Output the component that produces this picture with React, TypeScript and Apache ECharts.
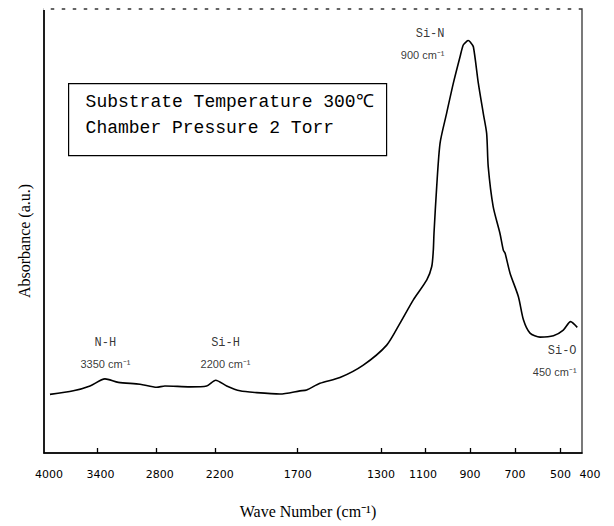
import React, { useEffect, useRef } from "react";
import * as echarts from "echarts";

// ---- data ----
const tickWavenumbers = [4000, 3400, 2800, 2200, 1700, 1300, 1100, 900, 700, 500, 400];
const tickLabels = ["4000", "3400", "2800", "2200", "1700", "1300", "1100", "900", "700", "500", "400"];

const wavenumbers = [
  3933, 3671, 3484, 3324, 3189, 2969, 2800, 2716, 2461, 2292, 2200, 2133, 2052, 1950, 1808,
  1689, 1657, 1593, 1497, 1385, 1274, 1214, 1153, 1092, 1070, 1063, 1060, 1048, 1033, 1004,
  974, 944, 930, 915, 908, 898, 885, 863, 841, 826, 819, 797, 767, 752, 744, 722, 685, 663,
  634, 590, 531, 487, 453, 422,
];
const absorbance = [
  0.132, 0.14, 0.151, 0.167, 0.159, 0.155, 0.148, 0.151, 0.149, 0.151, 0.164, 0.151, 0.14,
  0.136, 0.133, 0.14, 0.142, 0.157, 0.17, 0.198, 0.243, 0.292, 0.345, 0.39, 0.42, 0.457,
  0.495, 0.6, 0.698, 0.765, 0.833, 0.893, 0.919, 0.927, 0.929, 0.925, 0.915, 0.833, 0.765,
  0.72, 0.645, 0.555, 0.495, 0.457, 0.45, 0.405, 0.352, 0.3, 0.27, 0.261, 0.264, 0.277,
  0.296, 0.283,
];

const peakNames = ["N-H", "Si-H", "Si-N", "Si-O"];
const peakValues = ["3350", "2200", "900", "450"];
const peakLabelWavenumbers = [3315, 2137, 1011, 423];
const peakLabelAbsorbance = [0.222, 0.222, 0.919, 0.205];
const peakLabelAlign = ["center", "center", "right", "right"];

const boxLines = ["Substrate Temperature 300℃", "Chamber Pressure 2 Torr"];

// ---- non-linear (piecewise) wavenumber scale, as printed on the spectrometer chart ----
const AXIS_STOPS = [0, 53.5, 112.7, 171.7, 253.7, 337, 381, 426, 471, 516.5, 538];
const LABEL_SHIFT = [5, 3, 3, 4, 0, 0, -2, 0, 0, 0, 8];

function toAxis(wn: number): number {
  const n = tickWavenumbers.length;
  for (let i = 0; i < n - 1; i++) {
    const a = tickWavenumbers[i];
    const b = tickWavenumbers[i + 1];
    if (wn <= a && wn >= b) {
      return AXIS_STOPS[i] + ((a - wn) / (a - b)) * (AXIS_STOPS[i + 1] - AXIS_STOPS[i]);
    }
  }
  return wn > tickWavenumbers[0] ? AXIS_STOPS[0] : AXIS_STOPS[n - 1];
}

export default function App() {
  const ref = useRef<HTMLDivElement>(null);

  useEffect(() => {
    if (!ref.current) return;
    const chart = echarts.init(ref.current, null, { renderer: "svg" });

    const labelRich: Record<string, any> = {};
    LABEL_SHIFT.forEach((s, i) => {
      labelRich["s" + i] = {
        fontFamily: "DejaVu Sans",
        fontSize: 11,
        color: "#000",
        padding: s >= 0 ? [0, 0, 0, 2 * s] : [0, -2 * s, 0, 0],
      };
    });

    const xMax = AXIS_STOPS[AXIS_STOPS.length - 1];

    const option: any = {
      animation: false,
      backgroundColor: "#fff",
      grid: {
        left: 44,
        right: 32,
        top: 9,
        bottom: 73,
        show: true,
        borderColor: "#333",
        borderWidth: 1.3,
        backgroundColor: "transparent",
      },
      xAxis: [
        {
          type: "value",
          min: 0,
          max: xMax,
          position: "bottom",
          axisLine: { show: true, onZero: false, lineStyle: { color: "#000", width: 1.5 } },
          axisTick: {
            show: true,
            inside: true,
            length: 5,
            customValues: AXIS_STOPS.slice(1, -1),
            lineStyle: { color: "#000", width: 1.3 },
          },
          axisLabel: {
            show: true,
            customValues: AXIS_STOPS,
            margin: 16,
            formatter: (v: number) => {
              const i = AXIS_STOPS.findIndex((p) => Math.abs(p - v) < 0.01);
              return i >= 0 ? `{s${i}|${tickLabels[i]}}` : "";
            },
            rich: labelRich,
          },
          splitLine: { show: false },
          name: "Wave Number (cm⁻¹)",
          nameLocation: "middle",
          nameGap: 50,
          nameTextStyle: { fontFamily: "Liberation Serif", fontSize: 16, color: "#000", padding: [0, 10, 0, 0] },
        },
        {
          type: "value",
          min: 0,
          max: xMax,
          position: "top",
          axisLine: { show: true, onZero: false, lineStyle: { color: "#fff", width: 2, type: [6, 5] } },
          axisTick: { show: false },
          axisLabel: { show: false },
          splitLine: { show: false },
        },
      ],
      yAxis: [
        {
          type: "value",
          min: 0,
          max: 1,
          position: "left",
          axisLine: { show: true, onZero: false, lineStyle: { color: "#000", width: 1.5 } },
          axisTick: { show: false },
          axisLabel: { show: false },
          splitLine: { show: false },
          name: "Absorbance (a.u.)",
          nameLocation: "middle",
          nameGap: 12,
          nameTextStyle: { fontFamily: "Liberation Serif", fontSize: 16, color: "#000", padding: [0, 20, 0, 0] },
        },
      ],
      series: [
        {
          type: "line",
          xAxisIndex: 0,
          yAxisIndex: 0,
          data: wavenumbers.map((w, i) => [toAxis(w), absorbance[i]]),
          showSymbol: false,
          smooth: 0.25,
          silent: true,
          lineStyle: { color: "#000", width: 1.6 },
        },
        {
          type: "scatter",
          xAxisIndex: 0,
          yAxisIndex: 0,
          silent: true,
          symbolSize: 1,
          itemStyle: { color: "rgba(0,0,0,0)" },
          data: peakNames.map((name, i) => ({
            value: [toAxis(peakLabelWavenumbers[i]), peakLabelAbsorbance[i]],
            label: {
              show: true,
              position: [0, 0],
              align: peakLabelAlign[i],
              verticalAlign: "middle",
              formatter: `{a|${name}}\n{b|${peakValues[i]} cm⁻¹}`,
              rich: {
                a: { fontFamily: "Liberation Mono", fontSize: 12, lineHeight: 21, color: "#000", align: peakLabelAlign[i] },
                b: { fontFamily: "Liberation Sans", fontSize: 11, lineHeight: 21, color: "#000", align: peakLabelAlign[i] },
              },
            },
          })),
        },
      ],
      graphic: [
        {
          type: "group",
          left: 68,
          top: 83,
          children: [
            {
              type: "rect",
              shape: { x: 0, y: 0, width: 318, height: 72 },
              style: { fill: "#fff", stroke: "#000", lineWidth: 1.2 },
            },
            {
              type: "text",
              x: 17,
              y: 18,
              style: {
                text: boxLines[0],
                font: "18px 'Liberation Mono'",
                fill: "#000",
                verticalAlign: "middle",
              },
            },
            {
              type: "text",
              x: 17,
              y: 44,
              style: {
                text: boxLines[1],
                font: "18px 'Liberation Mono'",
                fill: "#000",
                verticalAlign: "middle",
              },
            },
          ],
        },
      ],
    };

    chart.setOption(option);
    return () => chart.dispose();
  }, []);

  return (
    <div
      ref={ref}
      style={{ position: "fixed", left: 0, top: 0, width: 614, height: 526, background: "#fff" }}
    />
  );
}
